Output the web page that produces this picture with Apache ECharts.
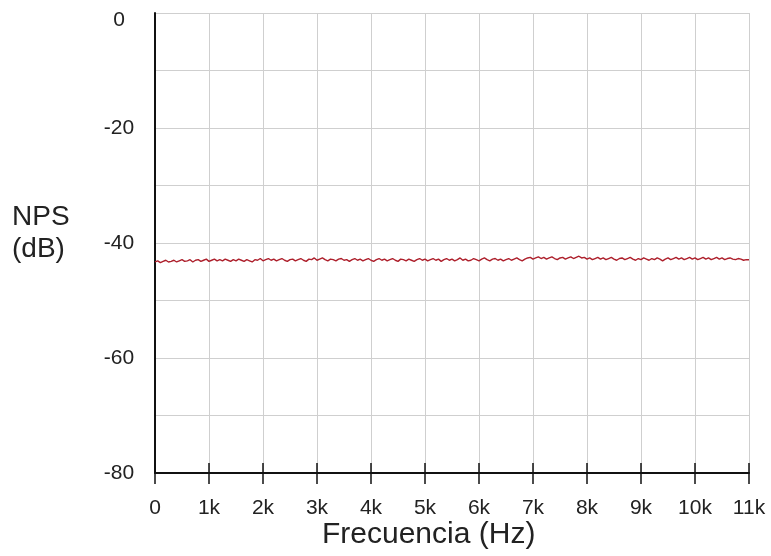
<!DOCTYPE html>
<html>
<head>
<meta charset="utf-8">
<script src="https://cdn.jsdelivr.net/npm/echarts@6/dist/echarts.min.js"></script>
<style>
  html, body {margin: 0; padding: 0; background: #fff;}
  #main {width: 771px; height: 556px;}
</style>
</head>
<body>
<div id="main"></div>
<script>
// frecuencia en pasos de 50 Hz, 0 .. 11k
var step = 50;
var xTicks = [0, 1000, 2000, 3000, 4000, 5000, 6000, 7000, 8000, 9000, 10000, 11000];
var yLabels = [0, -20, -40, -60, -80];
var nps = [
  -43.3,-43.1,-43.4,-43.2,-43.0,-43.3,-43.2,-43.0,-43.3,-43.1,-42.9,-43.2,-43.1,-42.9,-43.3,-43.0,-42.9,-43.2,-43.0,-42.8,
  -43.2,-43.0,-42.8,-43.1,-42.9,-43.1,-42.8,-43.0,-43.2,-42.9,-43.1,-42.8,-43.0,-43.2,-42.9,-43.1,-43.3,-42.9,-43.0,-42.7,
  -43.1,-42.9,-42.7,-43.0,-42.8,-43.1,-42.9,-42.7,-43.0,-43.2,-42.9,-42.8,-43.1,-42.9,-42.7,-43.0,-43.2,-42.8,-42.9,-42.6,
  -43.0,-42.8,-42.6,-42.9,-43.1,-42.8,-42.9,-43.1,-42.8,-42.7,-43.0,-42.9,-43.2,-42.9,-42.7,-43.0,-42.8,-43.1,-42.9,-42.7,
  -43.0,-43.2,-42.9,-42.7,-43.0,-42.8,-43.1,-42.9,-42.7,-43.0,-43.2,-42.8,-42.9,-43.1,-42.8,-43.0,-43.2,-42.9,-42.7,-43.0,
  -42.8,-43.1,-42.9,-42.7,-43.0,-42.8,-43.2,-42.9,-42.7,-43.0,-42.8,-43.1,-42.9,-42.6,-43.0,-42.8,-43.1,-43.0,-42.7,-42.9,
  -43.1,-42.8,-42.6,-42.9,-43.1,-42.8,-42.7,-43.0,-42.8,-43.1,-42.9,-42.7,-43.0,-42.8,-42.6,-42.9,-43.1,-42.8,-42.6,-42.5,
  -42.8,-42.6,-42.4,-42.7,-42.5,-42.8,-42.6,-42.4,-42.7,-42.9,-42.6,-42.5,-42.8,-42.6,-42.4,-42.7,-42.5,-42.3,-42.6,-42.5,
  -42.8,-42.6,-42.9,-42.7,-42.5,-42.8,-42.6,-42.9,-42.7,-42.5,-42.8,-43.0,-42.7,-42.6,-42.9,-42.7,-42.5,-42.8,-43.0,-42.7,
  -42.9,-42.6,-42.8,-43.0,-42.7,-42.9,-42.6,-42.8,-43.1,-42.8,-42.6,-42.9,-42.7,-42.5,-42.8,-42.6,-42.9,-42.7,-42.5,-42.8,
  -42.6,-42.9,-42.7,-42.5,-42.8,-42.6,-42.9,-42.7,-42.5,-42.8,-42.6,-42.9,-42.7,-42.6,-42.8,-42.9,-42.7,-42.8,-43.0,-42.9,
  -42.9
];

var font = "'Liberation Sans', Arial, sans-serif";
var pts = [];
for (var i = 0; i < nps.length; i++) pts.push([i * step, nps[i]]);

var chart = echarts.init(document.getElementById("main"));
var option = {
  animation: false,
  grid: {left: 155, right: 22, top: 13, bottom: 83},
  xAxis: [{
    type: "value", min: 0, max: 11000, interval: 1000, position: "bottom",
    axisLine: {onZero: false, lineStyle: {color: "#111", width: 2}},
    axisTick: {show: true, length: 11, lineStyle: {color: "#111", width: 1.5}},
    axisLabel: {
      margin: 25, color: "#222", fontSize: 21, fontFamily: font,
      formatter: function (v) { return v === 0 ? "0" : (v / 1000) + "k"; }
    },
    splitLine: {show: true, lineStyle: {color: "#cfcfcf", width: 1}}
  }, {
    // parte interior de los ticks que cruzan el eje
    type: "value", min: 0, max: 11000, interval: 1000, position: "bottom",
    axisLine: {show: false, onZero: false},
    axisTick: {show: true, inside: true, length: 10, lineStyle: {color: "#111", width: 1.5}},
    axisLabel: {show: false},
    splitLine: {show: false}
  }],
  yAxis: {
    type: "value", min: -80, max: 0, interval: 10,
    axisLine: {show: true, onZero: false, lineStyle: {color: "#111", width: 2}},
    axisTick: {show: false},
    axisLabel: {
      margin: 36, align: "center", color: "#222", fontSize: 21, fontFamily: font,
      formatter: function (v) {
        if (v === 0) return "{z|0}";
        return yLabels.indexOf(v) >= 0 ? String(v) : "";
      },
      rich: {z: {fontSize: 21, fontFamily: font, color: "#222", padding: [14, 0, 0, 0]}}
    },
    splitLine: {show: true, lineStyle: {color: "#cfcfcf", width: 1}}
  },
  graphic: [{
    type: "text", left: 12, top: 201,
    style: {text: "NPS\n(dB)", font: "28px " + font, fill: "#222", lineHeight: 32}
  }, {
    type: "text", left: 322, top: 520,
    style: {text: "Frecuencia (Hz)", font: "30px " + font, fill: "#222"}
  }],
  series: [{
    type: "line", data: pts, showSymbol: false,
    lineStyle: {color: "#ad1f2b", width: 1.4}
  }]
};
chart.setOption(option);
</script>
</body>
</html>
